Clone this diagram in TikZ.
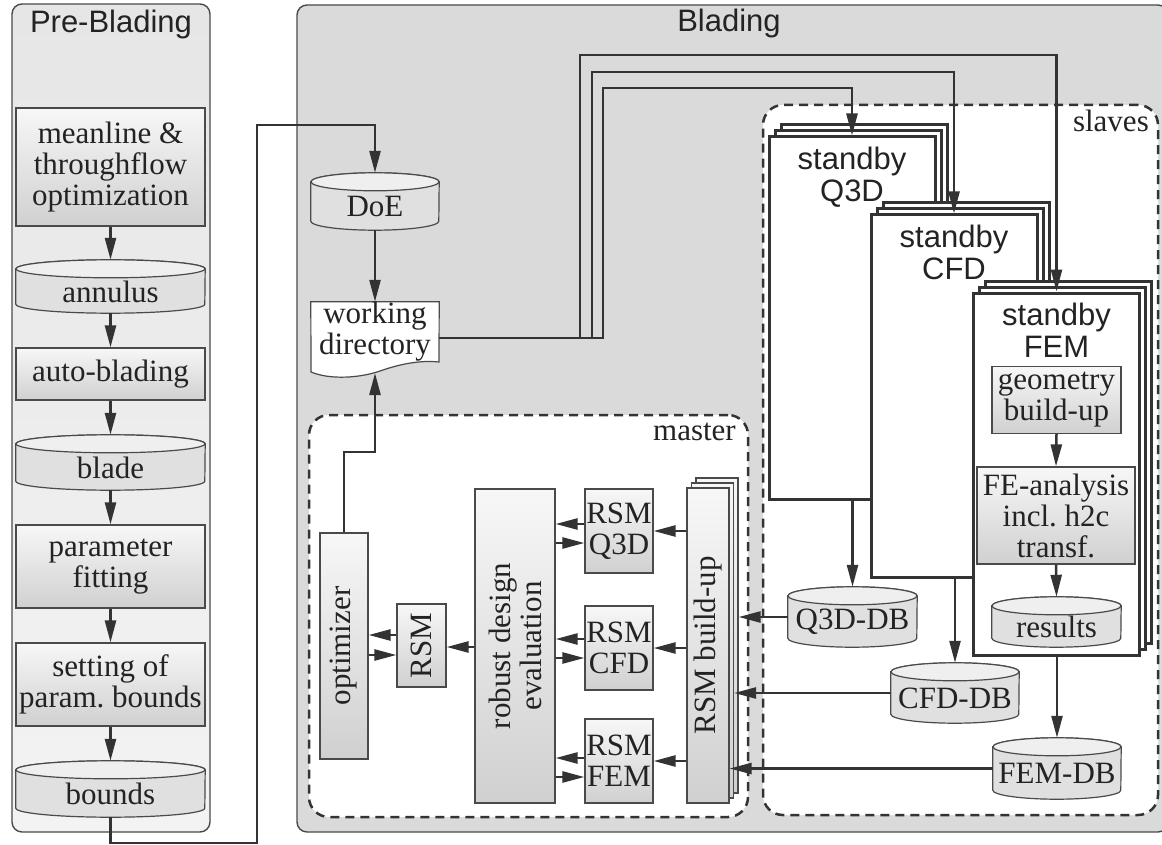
\documentclass[tikz,border=0pt]{standalone}
\usepackage{fontspec}
\setmainfont{Liberation Serif}
\setsansfont{Liberation Sans}
\usetikzlibrary{arrows.meta}
\definecolor{lc}{HTML}{333333}
\definecolor{bc}{HTML}{4A4A4A}
\definecolor{tc}{HTML}{232323}
\definecolor{procT}{HTML}{F7F7F7}
\definecolor{procB}{HTML}{D0D0D0}
\definecolor{cylB}{HTML}{E0E0E0}
\definecolor{cylT}{HTML}{EFEFEF}
\definecolor{bladeF}{HTML}{DADADA}
\definecolor{preT}{HTML}{E6E6E6}
\definecolor{preB}{HTML}{F3F3F3}

% cylinder (database) node: name, center, width, height, text
\newcommand\mkcyl[5]{%
  \path node[minimum width=#3pt, minimum height=#4pt, inner sep=0pt] (#1) at (#2) {};
  \filldraw[draw=bc, line width=1.2pt, fill=cylB]
    ([yshift=-9pt]#1.north west) -- ([yshift=9pt]#1.south west)
    arc[start angle=180, end angle=360, x radius=#3pt/2, y radius=9pt]
    -- ([yshift=-9pt]#1.north east)
    arc[start angle=0, end angle=180, x radius=#3pt/2, y radius=9pt] -- cycle;
  \filldraw[draw=bc, line width=1.2pt, fill=cylT] ([yshift=-9pt]#1.north) ellipse[x radius=#3pt/2, y radius=9pt];
  \node[serifT] (#1-t) at ([yshift=-5pt]#1.center) {#5};
}
% stack of three standby boxes: name, cx, cy
\newcommand\mkstack[3]{%
  \node[sbox] (#1C) at (#2+12,#3-12) {};
  \node[sbox] (#1B) at (#2+6,#3-6) {};
  \node[sbox] (#1) at (#2,#3) {};
}

\begin{document}
\begin{tikzpicture}[x=1pt, y=-1pt,
  every node/.style={text=tc},
  serifT/.style={font=\fontsize{31}{31}\selectfont, align=center},
  sansT/.style={font=\sffamily\fontsize{31}{32}\selectfont, align=center},
  conn/.style={draw=lc, line width=2.5pt},
  arr/.style={conn, -{Triangle[length=22pt, width=11pt]}},
  proc/.style={draw=bc, line width=1.2pt, top color=procT, bottom color=procB, inner sep=1pt, serifT},
  sbox/.style={draw=lc, line width=3pt, fill=white, minimum width=166pt, minimum height=362pt, inner sep=0pt},
  region/.style={draw=lc, line width=2.5pt, dash pattern=on 9pt off 6pt, fill=white, rounded corners=20pt, inner sep=0pt},
  panel/.style={draw=bc, line width=1.4pt, rounded corners=10pt, inner sep=0pt}
]
\useasboundingbox (0,0) rectangle (1162,845);

% ---------- panels ----------
\node[panel, top color=preT, bottom color=preB, minimum width=198pt, minimum height=828pt] (pre) at (111,418) {};
\node[panel, fill=bladeF, minimum width=871pt, minimum height=827pt] (blading) at (732.5,418.5) {};
\node[sansT, anchor=base] (pre-title) at (111,33) {Pre-Blading};
\node[sansT, anchor=base] (blading-title) at (729,32) {Blading};

% ---------- regions ----------
\node[region, minimum width=439pt, minimum height=402pt] (master) at (528.5,616) {};
\node[region, minimum width=395pt, minimum height=710pt] (slaves) at (960.5,460) {};
\node[serifT, anchor=base east, inner sep=0pt] (master-l) at (736,440) {master};
\node[serifT, anchor=base east, inner sep=0pt] (slaves-l) at (1149,132) {slaves};

% ---------- pre-blading chain ----------
\node[proc, minimum width=189pt, minimum height=118pt] (meanline) at (110.5,167) {meanline \&\\throughflow\\optimization};
\mkcyl{annulus}{110.5,286.5}{189}{53}{annulus}
\node[proc, minimum width=189pt, minimum height=52pt] (autoblading) at (110.5,374) {auto-blading};
\mkcyl{blade}{110.5,462.5}{189}{55}{blade}
\node[proc, minimum width=189pt, minimum height=83pt] (paramfit) at (110.5,566.5) {parameter\\fitting};
\node[proc, minimum width=189pt, minimum height=83pt] (setting) at (110.5,684.5) {setting of\\param.~bounds};
\mkcyl{bounds}{110.5,789}{189}{56}{bounds}

\draw[arr] (meanline.south) -- (annulus.north);
\draw[arr] (annulus.south) -- (autoblading.north);
\draw[arr] (autoblading.south) -- (blade.north);
\draw[arr] (blade.south) -- (paramfit.north);
\draw[arr] (paramfit.south) -- (setting.north);
\draw[arr] (setting.south) -- (bounds.north);

% ---------- DoE / working directory ----------
\mkcyl{DoE}{375,201.5}{128}{57}{DoE}
\path node[minimum width=128pt, minimum height=72pt, inner sep=0pt] (workdir) at (375,338) {};
\filldraw[draw=bc, line width=1.2pt, fill=white] (workdir.north west) -- (311,372)
  .. controls (330,380) and (360,378) .. (380,371)
  .. controls (400,364) and (420,360) .. (439,362) -- (workdir.north east) -- cycle;
\node[serifT] (workdir-t) at (375,332) {working\\directory};
\coordinate (wdbot) at (375,373);

% ---------- slaves ----------
\mkstack{q3d}{852}{318}
\mkstack{cfd}{954}{396}
\mkstack{fem}{1056.5}{474}
\node[sansT, anchor=north, inner sep=0pt] (q3d-t) at (852,146.5) {standby\\Q3D};
\node[sansT, anchor=north, inner sep=0pt] (cfd-t) at (954,224.5) {standby\\CFD};
\node[sansT, anchor=north, inner sep=0pt] (fem-t) at (1056.5,302.5) {standby\\FEM};

\node[proc, minimum width=129pt, minimum height=67pt] (geom) at (1056.5,400) {geometry\\build-up};
\node[proc, minimum width=158pt, minimum height=97pt] (fe) at (1056,515.5) {FE-analysis\\incl.~h2c\\transf.};
\mkcyl{results}{1056.5,622}{129}{50}{results}
\draw[arr] (geom.south) -- (fe.north);
\draw[arr] (fe.south) -- (results.north);

\mkcyl{q3ddb}{852.5,617}{129}{60}{Q3D-DB}
\mkcyl{cfddb}{955,693}{128}{60}{CFD-DB}
\mkcyl{femdb}{1057,768.5}{128}{61}{FEM-DB}

\draw[arr] (q3ddb.north |- q3d.south) -- (q3ddb.north);
\draw[arr] (cfddb.north |- cfd.south) -- (cfddb.north);
\draw[arr] (femdb.north |- fem.south) -- (femdb.north);

% ---------- master ----------
\node[proc, minimum width=48pt, minimum height=226pt] (optimizer) at (344,646) {};
\node[serifT, rotate=90] (optimizer-t) at (optimizer) {optimizer};
\node[proc, minimum width=49pt, minimum height=83pt] (rsm) at (421.5,645.5) {};
\node[serifT, rotate=90] (rsm-t) at (rsm) {RSM};
\node[proc, minimum width=80pt, minimum height=314pt] (robust) at (515,646) {};
\node[serifT, rotate=90] (robust-t) at (robust) {robust design\\evaluation};
\node[proc, minimum width=68pt, minimum height=84pt] (rsmq3d) at (619,531) {RSM\\Q3D};
\node[proc, minimum width=68pt, minimum height=84pt] (rsmcfd) at (619,648) {RSM\\CFD};
\node[proc, minimum width=68pt, minimum height=84pt] (rsmfem) at (619,761) {RSM\\FEM};
\node[proc, minimum width=42pt, minimum height=315pt] (rsmbuildC) at (717,635.5) {};
\node[proc, minimum width=42pt, minimum height=315pt] (rsmbuildB) at (712.5,640.5) {};
\node[proc, minimum width=42pt, minimum height=315pt] (rsmbuild) at (708,645.5) {};
\node[serifT, rotate=90] (rsmbuild-t) at (rsmbuild) {RSM build-up};

% master connectors
\draw[arr] (rsmbuild.west |- rsmq3d.east) -- (rsmq3d.east);
\draw[arr] (rsmbuild.west |- rsmcfd.east) -- (rsmcfd.east);
\draw[arr] (rsmbuild.west |- rsmfem.east) -- (rsmfem.east);
\draw[arr] (rsmq3d.west |- 0,524) -- (robust.east |- 0,524);
\draw[arr] (robust.east |- 0,543) -- (rsmq3d.west |- 0,543);
\draw[arr] (rsmcfd.west |- 0,639) -- (robust.east |- 0,639);
\draw[arr] (robust.east |- 0,658) -- (rsmcfd.west |- 0,658);
\draw[arr] (rsmfem.west |- 0,758) -- (robust.east |- 0,758);
\draw[arr] (robust.east |- 0,777) -- (rsmfem.west |- 0,777);
\draw[arr] (robust.west |- 0,647) -- (rsm.east |- 0,647);
\draw[arr] (rsm.west |- 0,635) -- (optimizer.east |- 0,635);
\draw[arr] (optimizer.east |- 0,655) -- (rsm.west |- 0,655);

% DB -> RSM build-up
\draw[arr] (q3ddb.west) -- (q3ddb.west -| rsmbuildC.east);
\draw[arr] (cfddb.west) -- (cfddb.west -| rsmbuildB.east);
\draw[arr] (femdb.west) -- (femdb.west -| rsmbuild.east);

% ---------- long connectors ----------
\coordinate (b1) at (257,843);
\coordinate (b2) at (257,125);
\draw[arr] (bounds.south) |- (b1) -- (b2) -| (DoE.north);
\draw[arr] (DoE.south) -- (workdir.north);
\coordinate (o1) at (375,452);
\draw[arr] (optimizer.north) |- (o1) -- (wdbot);

\coordinate (w1) at (580,55);
\coordinate (w2) at (592,72);
\coordinate (w3) at (603,88);
\draw[arr] (workdir.east) -| (w1) -| (fem.north);
\draw[arr] (workdir.east) -| (w2) -| (cfd.north);
\draw[arr] (workdir.east) -| (w3) -| (q3d.north);
\end{tikzpicture}
\end{document}
